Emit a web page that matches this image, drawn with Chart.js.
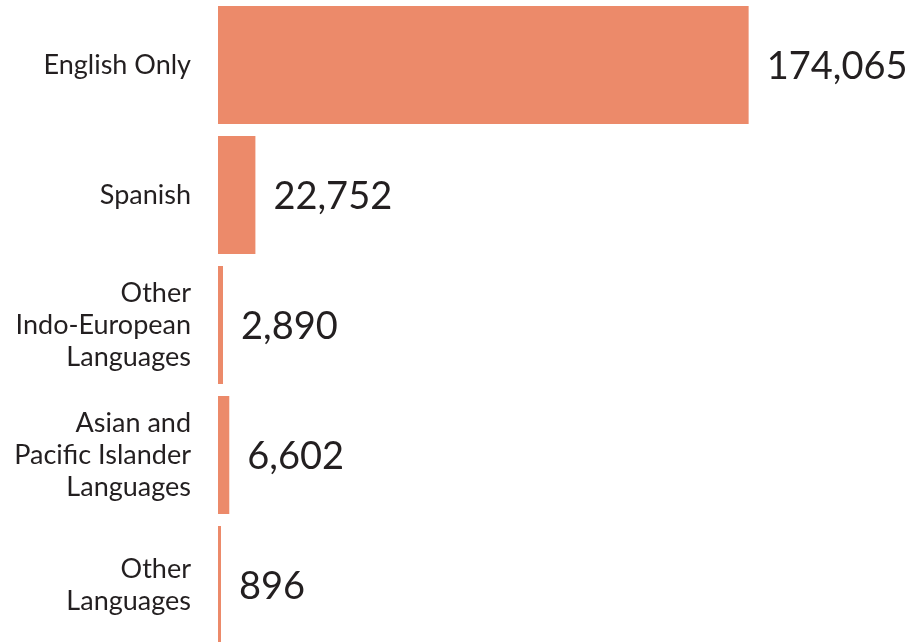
<!DOCTYPE html>
<html>
<head>
<meta charset="utf-8">
<script src="https://cdn.jsdelivr.net/npm/chart.js@4"></script>
<style>
    html, body {
        margin: 0;
        padding: 0;
        background: #ffffff;
        overflow: hidden;
    }
    #wrap {
        position: relative;
        width: 910px;
        height: 650px;
    }
</style>
</head>
<body>
<div id="wrap">
    <canvas id="languageChart"></canvas>
</div>
<script>
const categories = [
    "English Only",
    "Spanish",
    ["Other", "Indo-European", "Languages"],
    ["Asian and", "Pacific Islander", "Languages"],
    ["Other", "Languages"]
];

// printed totals next to each bar
const labelValues = [174065, 22752, 2890, 6602, 896];

// bar lengths as drawn in the picture (same units as the axis)
const barValues = [174065, 12270, 1640, 3700, 985];

const axisMax = 227000;

const barColor = "#ec8a6a";
const textColor = "#231f20";

const valueLabels = {
    id: "valueLabels",
    afterDatasetsDraw(chart) {
        const ctx = chart.ctx;
        const meta = chart.getDatasetMeta(0);

        ctx.save();
        ctx.font = "38px Lato";
        ctx.fillStyle = textColor;
        ctx.textAlign = "left";
        ctx.textBaseline = "middle";

        meta.data.forEach((bar, i) => {
            const text = labelValues[i].toLocaleString("en-US");
            ctx.fillText(text, bar.x + 18, bar.y + 2);
        });

        ctx.restore();
    }
};

const ctx = document.getElementById("languageChart");

new Chart(ctx, {
    type: "bar",
    data: {
        labels: categories,
        datasets: [
            {
                data: barValues,
                backgroundColor: barColor,
                borderWidth: 0,
                barPercentage: 0.908,
                categoryPercentage: 1
            }
        ]
    },
    options: {
        indexAxis: "y",
        responsive: true,
        maintainAspectRatio: false,
        animation: false,
        layout: {
            padding: 0
        },
        plugins: {
            legend: { display: false },
            tooltip: { enabled: false }
        },
        scales: {
            x: {
                display: false,
                min: 0,
                max: axisMax
            },
            y: {
                border: { display: false },
                grid: { display: false, drawTicks: false },
                ticks: {
                    color: textColor,
                    padding: 27,
                    font: {
                        family: "Lato",
                        size: 27,
                        lineHeight: 1.19
                    }
                },
                afterFit(scale) {
                    scale.width = 218;
                    scale.paddingTop = 0;
                    scale.paddingBottom = 0;
                }
            }
        }
    },
    plugins: [valueLabels]
});
</script>
</body>
</html>
